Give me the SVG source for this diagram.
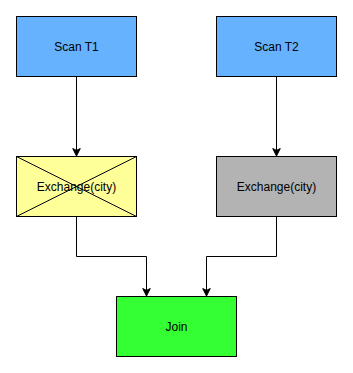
<svg xmlns="http://www.w3.org/2000/svg" width="353" height="373" viewBox="0 0 353 373">
<defs>
<style>
.box{stroke:#000;stroke-width:1}
.lbl{font-family:"Liberation Sans",Arial,Helvetica,sans-serif;font-size:12px;fill:#000;text-anchor:middle;dominant-baseline:central}
.edge{fill:none;stroke:#000;stroke-width:1}
</style>
<marker id="arr" markerUnits="userSpaceOnUse" markerWidth="10" markerHeight="10" viewBox="-8 -5 10 10" refX="0" refY="0" orient="auto">
<path d="M0,0 L-7.5,-3.75 L-5.6,0 L-7.5,3.75 Z" fill="#000" stroke="#000" stroke-width="1"/>
</marker>
</defs>
<rect width="353" height="373" fill="#fff"/>
<g id="edges">
<path class="edge" d="M76.5,76.5 V156" marker-end="url(#arr)"/>
<path class="edge" d="M276.5,76.5 V156" marker-end="url(#arr)"/>
<path class="edge" d="M76.5,216.5 V256.5 H146.5 V296" marker-end="url(#arr)"/>
<path class="edge" d="M276.5,216.5 V256.5 H206.5 V296" marker-end="url(#arr)"/>
</g>
<g id="scanT1">
<rect class="box" x="16.5" y="16.5" width="120" height="60" fill="#66B2FF"/>
<text class="lbl" x="76.5" y="46.5">Scan T1</text>
</g>
<g id="scanT2">
<rect class="box" x="216.5" y="16.5" width="120" height="60" fill="#66B2FF"/>
<text class="lbl" x="276.5" y="46.5">Scan T2</text>
</g>
<g id="exchange1">
<rect class="box" x="16.5" y="156.5" width="120" height="60" fill="#FFFF99"/>
<path class="edge" d="M16.5,156.5 L136.5,216.5 M136.5,156.5 L16.5,216.5" stroke-width="0.8"/>
<text class="lbl" x="76.5" y="186.5">Exchange(city)</text>
</g>
<g id="exchange2">
<rect class="box" x="216.5" y="156.5" width="120" height="60" fill="#B3B3B3"/>
<text class="lbl" x="276.5" y="186.5">Exchange(city)</text>
</g>
<g id="join">
<rect class="box" x="116.5" y="296.5" width="120" height="60" fill="#33FF33"/>
<text class="lbl" x="176.5" y="326.5">Join</text>
</g>
</svg>
